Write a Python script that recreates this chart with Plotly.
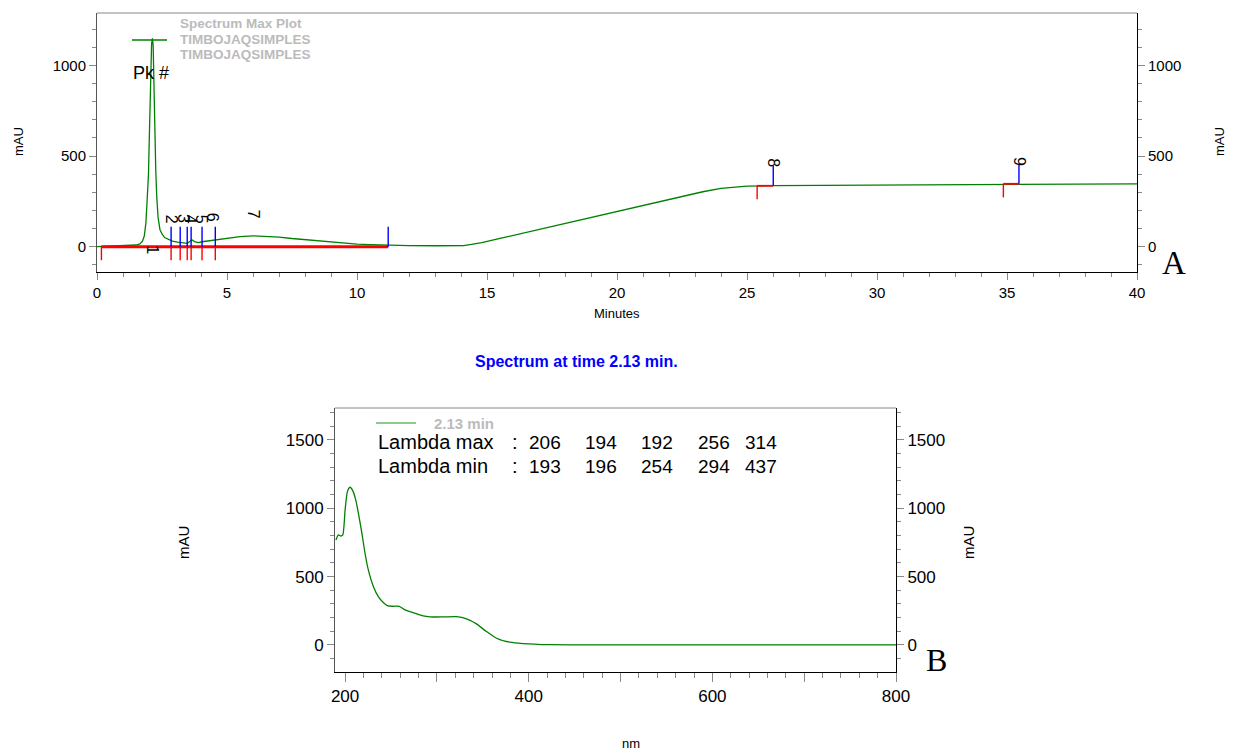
import plotly.graph_objects as go

W, H = 1237, 752
SANS = "Liberation Sans, Arial, sans-serif"
SERIF = "Liberation Serif, Times New Roman, serif"
GREEN = "#008000"

# ---- chromatogram (Spectrum Max Plot) ----
chrom_time = [0.0, 0.5, 1.0, 1.3, 1.5, 1.65, 1.75, 1.82, 1.88, 1.93, 1.98, 2.02, 2.06,
              2.10, 2.13, 2.16, 2.19, 2.22, 2.26, 2.30, 2.35, 2.42, 2.5, 2.6, 2.75,
              2.9, 3.1, 3.3, 3.47, 3.58, 3.65, 3.75, 3.9, 4.04, 4.2, 4.4, 4.6, 5.0,
              5.5, 6.0, 6.5, 7.0, 7.5, 8.0, 8.5, 9.0, 9.5, 10.0, 10.5, 11.2, 12.0,
              13.0, 13.8, 14.1, 14.4, 14.8, 15.5, 16.5, 17.5, 18.5, 19.5, 20.5,
              21.5, 22.5, 23.3, 24.0, 24.5, 25.0, 26.0, 28.0, 30.0, 32.0, 35.0,
              38.0, 40.0]
chrom_mau = [0, 2, 4, 6, 9, 15, 30, 60, 130, 260, 400, 650, 950,
             1120, 1150, 1110, 900, 640, 420, 270, 160, 95, 70, 50, 38,
             30, 25, 22, 18, 30, 38, 28, 22, 27, 30, 36, 40, 48,
             55, 60, 58, 53, 45, 38, 31, 24, 18, 14, 11, 8, 6,
             5, 5, 6, 12, 22, 45, 78, 112, 146, 180, 213,
             246, 278, 303, 322, 330, 334, 337, 338, 340, 342, 345,
             346, 347]

# integration events
baseline_start = [0.17, 25.39, 34.86]
baseline_end = [11.2, 26.01, 35.46]
baseline_level = [0, 336, 347]
start_marks = [0.17, 2.85, 3.2, 3.47, 3.62, 4.04, 4.55, 25.39, 34.86]
start_levels = [0, 0, 0, 0, 0, 0, 0, 336, 347]
end_marks = [2.85, 3.2, 3.47, 3.62, 4.04, 4.55, 11.2, 26.01, 35.46]
end_levels = [0, 0, 0, 0, 0, 0, 0, 336, 347]

peak_numbers = ["1", "2", "3", "4", "5", "6", "7", "8", "9"]
peak_label_time = [2.13, 2.85, 3.3, 3.58, 4.0, 4.42, 6.0, 26.01, 35.46]
peak_label_mau = [-16, 154, 154, 154, 154, 160, 182, 464, 468]

legend_top = ["Spectrum Max Plot", "TIMBOJAQSIMPLES", "TIMBOJAQSIMPLES"]

# ---- UV spectrum at 2.13 min ----
spec_nm = [190, 192.7, 195.3, 197.5, 200, 202.5, 205.4, 208.3, 211.6, 214.5, 218,
           221.7, 225.3, 230.8, 236.2, 241.6, 246, 252.5, 259, 265.2, 274.2, 285,
           292.4, 306.8, 321.4, 332.3, 343, 354, 364.9, 379.3, 393.8, 422.8, 450,
           500, 600, 700, 800]
spec_mau = [768, 805, 797, 805, 988, 1122, 1154, 1129, 1061, 963, 829,
            671, 549, 427, 353, 310, 288, 283, 283, 256, 237, 212,
            205, 205, 207, 190, 154, 98, 49, 20, 10, 2, 1,
            0, 0, 0, 0]
spec_label = "2.13 min"
lambda_max = [206, 194, 192, 256, 314]
lambda_min = [193, 196, 254, 294, 437]

# plot frames in pixels (left, top, right, bottom)
TOP = (97, 13, 1137, 272)
BOT = (335, 408, 896, 672)


def px(x, y):
    return x / W, 1 - y / H


def segs(xs, y0s, dy):
    X, Y = [], []
    for x, y0 in zip(xs, y0s):
        X += [x, x, None]
        Y += [y0, y0 + dy, None]
    return X, Y


fig = go.Figure()

fig.add_trace(go.Scatter(x=chrom_time, y=chrom_mau, mode="lines",
                         line=dict(color=GREEN, width=1.3),
                         xaxis="x", yaxis="y", hoverinfo="skip"))
# right-hand axis companion
fig.add_trace(go.Scatter(x=chrom_time, y=chrom_mau, mode="lines",
                         line=dict(color="rgba(0,0,0,0)"),
                         xaxis="x", yaxis="y3", hoverinfo="skip"))

# baselines
bx, by = [], []
for s, e, lv in zip(baseline_start, baseline_end, baseline_level):
    bx += [s, e, None]
    by += [lv, lv, None]
fig.add_trace(go.Scatter(x=bx[:3], y=by[:3], mode="lines",
                         line=dict(color="red", width=3), xaxis="x", yaxis="y",
                         hoverinfo="skip"))
fig.add_trace(go.Scatter(x=bx[3:], y=by[3:], mode="lines",
                         line=dict(color="red", width=1.8), xaxis="x", yaxis="y",
                         hoverinfo="skip"))
sx, sy = segs(start_marks, start_levels, -75)
fig.add_trace(go.Scatter(x=sx, y=sy, mode="lines", line=dict(color="red", width=1.4),
                         xaxis="x", yaxis="y", hoverinfo="skip"))
ex, ey = segs(end_marks, end_levels, 110)
fig.add_trace(go.Scatter(x=ex, y=ey, mode="lines", line=dict(color="blue", width=1.4),
                         xaxis="x", yaxis="y", hoverinfo="skip"))

fig.add_trace(go.Scatter(x=spec_nm, y=spec_mau, mode="lines",
                         line=dict(color=GREEN, width=1.3, shape="spline", smoothing=0.6),
                         xaxis="x2", yaxis="y2", hoverinfo="skip"))
fig.add_trace(go.Scatter(x=spec_nm, y=spec_mau, mode="lines",
                         line=dict(color="rgba(0,0,0,0)"),
                         xaxis="x2", yaxis="y4", hoverinfo="skip"))

tick_common = dict(ticks="outside", tickcolor="#888", showgrid=False, zeroline=False,
                   showline=True, automargin=False)

fig.update_layout(
    width=W, height=H, margin=dict(l=0, r=0, t=0, b=0, pad=0, autoexpand=False),
    paper_bgcolor="white", plot_bgcolor="white", showlegend=False,
    font=dict(family=SANS, color="black"),
    xaxis=dict(domain=[TOP[0] / W, TOP[2] / W], anchor="y", range=[0, 40],
               tick0=0, dtick=5, ticklen=7, linecolor="black",
               minor=dict(dtick=1, ticklen=4, ticks="outside", tickcolor="#888"),
               tickfont=dict(size=15), **tick_common),
    yaxis=dict(domain=[1 - TOP[3] / H, 1 - TOP[1] / H], anchor="x", range=[-140, 1290],
               tick0=0, dtick=500, ticklen=7, linecolor="#555",
               minor=dict(dtick=100, ticklen=4, ticks="outside", tickcolor="#888"),
               tickfont=dict(size=15), **tick_common),
    yaxis3=dict(overlaying="y", side="right", anchor="x", range=[-140, 1290],
                tick0=0, dtick=500, ticklen=7, linecolor="black",
                minor=dict(dtick=100, ticklen=4, ticks="outside", tickcolor="#888"),
                tickfont=dict(size=15), **tick_common),
    xaxis2=dict(domain=[BOT[0] / W, BOT[2] / W], anchor="y2", range=[189, 800],
                tickmode="array", tickvals=list(range(200, 801, 100)),
                ticktext=[str(v) if v % 200 == 0 else "" for v in range(200, 801, 100)],
                ticklen=9, linecolor="black",
                minor=dict(tick0=200, dtick=20, ticklen=5, ticks="outside", tickcolor="#888"),
                tickfont=dict(size=17), **tick_common),
    yaxis2=dict(domain=[1 - BOT[3] / H, 1 - BOT[1] / H], anchor="x2", range=[-198, 1734],
                tick0=0, dtick=500, ticklen=7, linecolor="#555",
                minor=dict(dtick=100, ticklen=4, ticks="outside", tickcolor="#888"),
                tickfont=dict(size=17), **tick_common),
    yaxis4=dict(overlaying="y2", side="right", anchor="x2", range=[-198, 1734],
                tick0=0, dtick=500, ticklen=7, linecolor="black",
                minor=dict(dtick=100, ticklen=4, ticks="outside", tickcolor="#888"),
                tickfont=dict(size=17), **tick_common),
)

shapes = []
# top borders of both frames
for fr in (TOP, BOT):
    x0, y0 = px(fr[0], fr[1])
    x1, _ = px(fr[2], fr[1])
    shapes.append(dict(type="line", xref="paper", yref="paper", x0=x0, x1=x1, y0=y0, y1=y0,
                       line=dict(color="#888", width=1)))
# legend sample lines
a0, ay = px(132, 40)
a1, _ = px(167, 40)
shapes.append(dict(type="line", xref="paper", yref="paper", x0=a0, x1=a1, y0=ay, y1=ay,
                   line=dict(color=GREEN, width=1.3)))
b0, by2 = px(376, 423)
b1, _ = px(416, 423)
shapes.append(dict(type="line", xref="paper", yref="paper", x0=b0, x1=b1, y0=by2, y1=by2,
                   line=dict(color="#66bb66", width=1.5)))
fig.update_layout(shapes=shapes)

ann = []


def text(x, y, s, size, color="black", bold=False, angle=0, xanchor="center",
         family=SANS):
    xx, yy = px(x, y)
    ann.append(dict(x=xx, y=yy, xref="paper", yref="paper", text=f"<b>{s}</b>" if bold else s,
                    showarrow=False, xanchor=xanchor, yanchor="middle", textangle=angle,
                    font=dict(size=size, color=color, family=family)))


# axis titles
text(18, 142, "mAU", 13, angle=-90)
text(1219, 142, "mAU", 13, angle=-90)
text(617, 313, "Minutes", 13)
text(183, 543, "mAU", 15, angle=-90)
text(968, 543, "mAU", 15, angle=-90)
text(631, 743, "nm", 13)
text(576, 361, "Spectrum at time 2.13 min.", 16, color="blue", bold=True)
text(1174, 263, "A", 33, family=SERIF)
text(936, 660, "B", 32, family=SERIF)

# chromatogram legend block
for i, s in enumerate(legend_top):
    text(178, 23 + 16 * i, s, 13.5, color="#bbbbbb", bold=True, xanchor="left")
text(151, 73, "Pk #", 18)

# peak numbers
for lab, t, v in zip(peak_numbers, peak_label_time, peak_label_mau):
    ann.append(dict(x=t, y=v, xref="x", yref="y", text=lab, showarrow=False,
                    textangle=90, xanchor="center", yanchor="middle",
                    font=dict(size=16, color="black", family=SANS)))

# spectrum legend and lambda table
text(432, 423, spec_label, 15, color="#bbbbbb", bold=True, xanchor="left")
for row_y, head, vals in ((442, "Lambda max", lambda_max), (466, "Lambda min", lambda_min)):
    text(376, row_y, head, 20, xanchor="left")
    text(515, row_y, ":", 20)
    for c, v in zip([545, 601, 657, 714, 761], vals):
        text(c, row_y, str(v), 19)

fig.update_layout(annotations=ann)
fig.write_html("out.html")
